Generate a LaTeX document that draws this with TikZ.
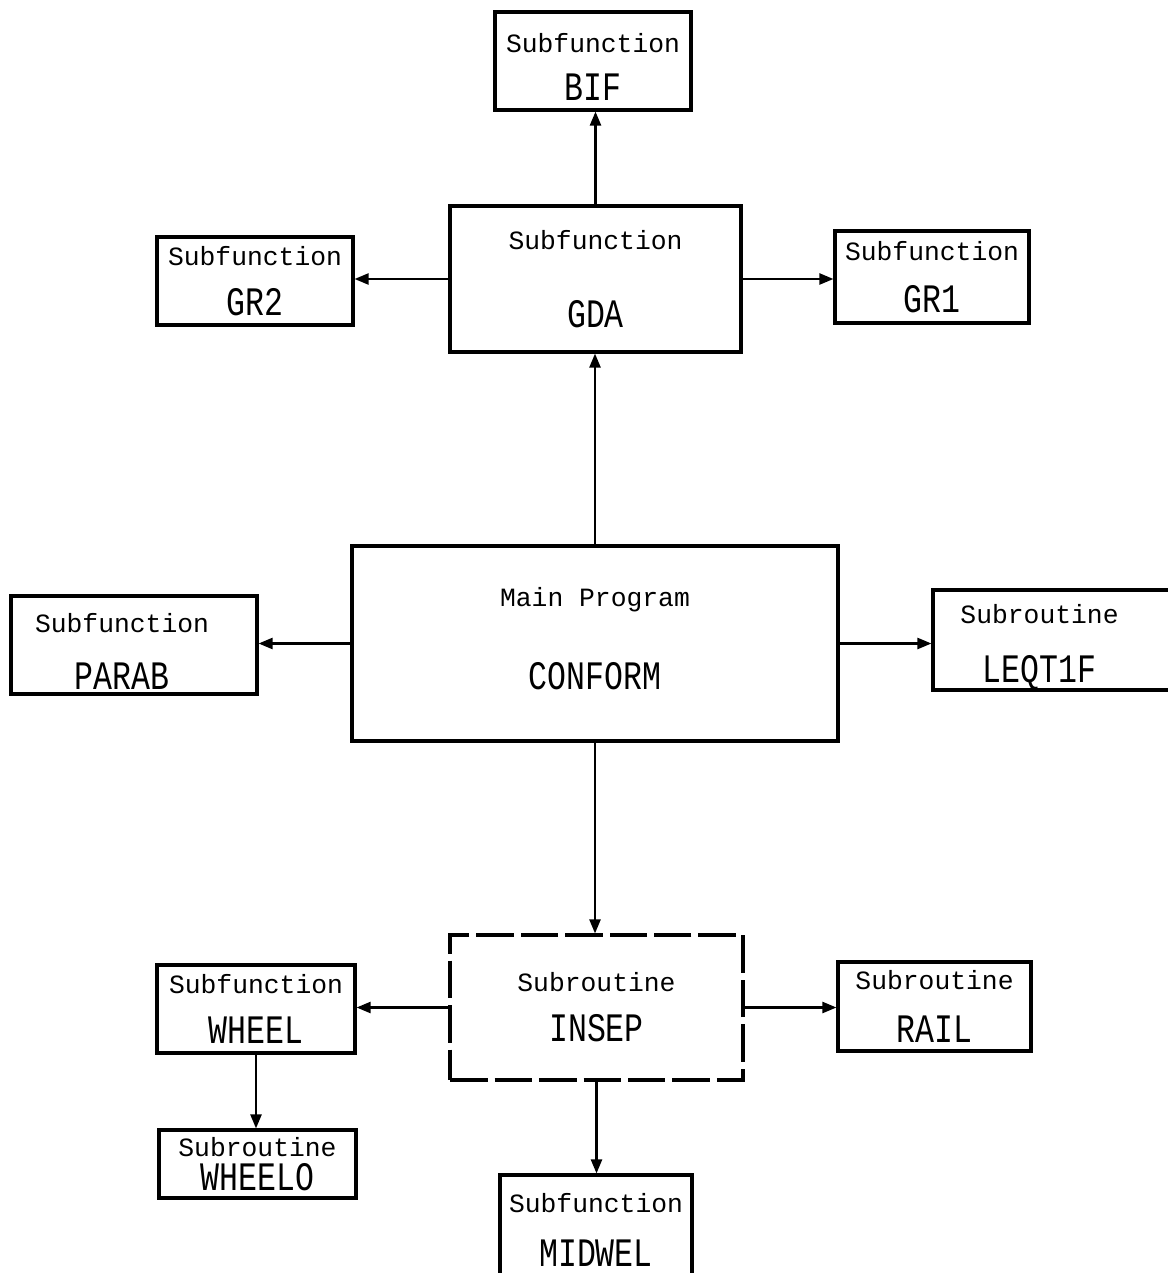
\documentclass[tikz,border=0pt]{standalone}
\usepackage{fontspec}
\usepackage{tikz}
\usetikzlibrary{arrows.meta,positioning}
\newfontfamily\labfont{Liberation Mono}
\newfontfamily\namefontfam[FakeStretch=0.78]{Liberation Mono}
\newcommand{\lab}[1]{{\labfont\fontsize{15}{18}\selectfont #1}}
\newcommand{\nam}[1]{{\namefontfam\fontsize{23}{26}\selectfont #1}}
% label line, name line, extra gap
\newcommand{\bx}[3]{\lab{#1}\\[#3]\nam{#2}}
\tikzset{
  %% -- boxes --
  subbox/.style = {
    rectangle, draw = black, line width = 1.8pt,
    align = center, inner sep = 0pt
  },
  dashbox/.style = {
    subbox, dash pattern = on 0.75cm off 0.14cm
  },
  %% -- connectors --
  arr/.style = {-{Triangle[length=0.28cm,width=0.22cm]}, line width = 1.3pt},
}
\begin{document}
\begin{tikzpicture}[x=0.02cm, y=-0.02cm]
  \useasboundingbox (0,0) rectangle (1167,1273);

  %% -- top row: GDA and what it calls --
  \node[subbox, minimum width=3.92cm, minimum height=1.96cm] (bif) at (593,61)
    {\rule{0pt}{18pt}\bx{Subfunction}{BIF}{11pt}};
  \node[subbox, minimum width=5.82cm, minimum height=2.92cm] (gda) at (595.5,279)
    {\bx{Subfunction}{GDA}{28pt}};
  \node[subbox, minimum width=3.92cm, minimum height=1.76cm] (gr2) at (255,281)
    {\bx{Subfunction}{GR2}{12pt}};
  \node[subbox, minimum width=3.88cm, minimum height=1.84cm] (gr1) at (932,277)
    {\bx{Subfunction}{GR1}{13pt}};

  %% -- middle row: main program --
  \node[subbox, minimum width=9.72cm, minimum height=3.9cm] (conform) at (595,643.5)
    {\bx{Main Program}{CONFORM}{28pt}\rule[-6pt]{0pt}{6pt}};
  \node[subbox, minimum width=4.92cm, minimum height=1.96cm] (parab) at (134,645)
    {\rule{0pt}{18pt}\lab{Subfunction}\hspace*{0.48cm}\\[16pt]\nam{PARAB}\hspace*{0.48cm}};
  \node[subbox, minimum width=4.94cm, minimum height=2.0cm] (leqt) at (1056.5,640)
    {\rule{0pt}{19pt}\lab{Subroutine}\hspace*{0.68cm}\\[17pt]\nam{LEQT1F}\hspace*{0.68cm}};

  %% -- bottom row: INSEP and what it calls --
  \node[dashbox, minimum width=5.86cm, minimum height=2.9cm] (insep) at (596.5,1007.5)
    {\bx{Subroutine}{INSEP}{12pt}};
  \node[subbox, minimum width=3.96cm, minimum height=1.76cm] (wheel) at (256,1009)
    {\bx{Subfunction}{WHEEL}{12pt}};
  \node[subbox, minimum width=3.94cm, minimum height=1.36cm] (wheelo) at (257.5,1164)
    {\bx{Subroutine}{WHEELO}{3pt}};
  \node[subbox, minimum width=3.86cm, minimum height=1.78cm] (rail) at (934.5,1006.5)
    {\bx{Subroutine}{RAIL}{14pt}};
  \node[subbox, minimum width=3.84cm, minimum height=2.2cm] (midwel) at (596,1230)
    {\bx{Subfunction}{MIDWEL}{14pt}};

  %% -- connectors --
  \draw[arr] (gda.north) -- (gda.north |- bif.south);
  \draw[arr] (gda.west)  -- (gda.west -| gr2.east);
  \draw[arr] (gda.east)  -- (gda.east -| gr1.west);
  \draw[arr] (conform.north) -- (conform.north |- gda.south);
  \draw[arr] (conform.west)  -- (conform.west -| parab.east);
  \draw[arr] (conform.east)  -- (conform.east -| leqt.west);
  \draw[arr] (conform.south) -- (conform.south |- insep.north);
  \draw[arr] (insep.west)  -- (insep.west -| wheel.east);
  \draw[arr] (insep.east)  -- (insep.east -| rail.west);
  \draw[arr] (insep.south) -- (insep.south |- midwel.north);
  \draw[arr] (wheel.south) -- (wheel.south |- wheelo.north);

\end{tikzpicture}
\end{document}
